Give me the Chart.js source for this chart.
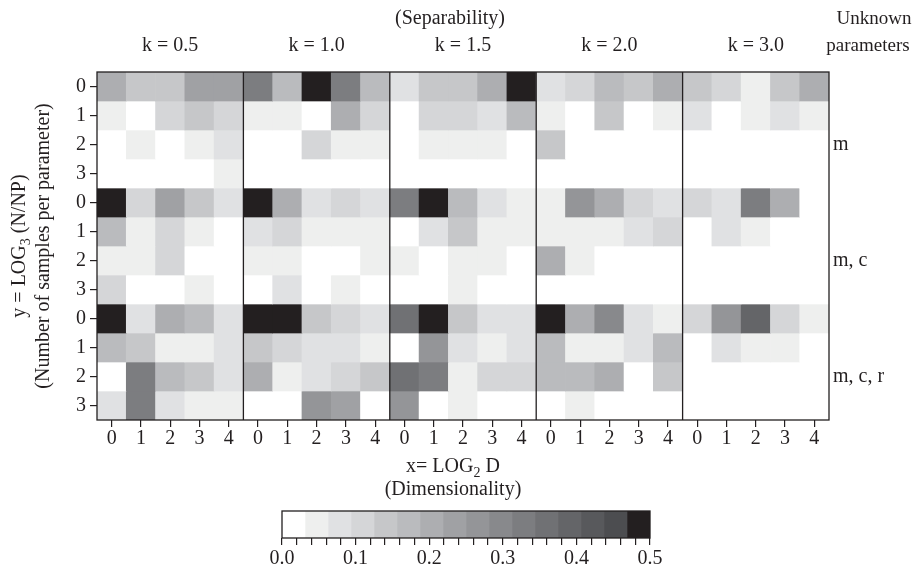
<!DOCTYPE html>
<html>
<head>
<meta charset="utf-8">
<script src="https://cdn.jsdelivr.net/npm/chart.js@4"></script>
<style>
  body { margin: 0; background: #fff; }
  #wrap { position: relative; width: 916px; height: 572px; }
  #main { position: absolute; left: 0; top: 0; }
  #bar { position: absolute; left: 262px; top: 502px; }
</style>
</head>
<body>
<div id="wrap">
  <canvas id="main" width="916" height="572"></canvas>
  <canvas id="bar" width="420" height="70"></canvas>
</div>
<script>
// separability panels, dimensionality ticks, sample-size ticks
const kLabels = ['k = 0.5', 'k = 1.0', 'k = 1.5', 'k = 2.0', 'k = 3.0'];
const xTicks = ['0', '1', '2', '3', '4'];
const yTicks = ['0', '1', '2', '3'];
const paramGroups = ['m', 'm, c', 'm, c, r'];

// 12 rows each: (m y0..y3), (m,c y0..y3), (m,c,r y0..y3); 5 cols x=0..4
const k05 = [
  [0.20, 0.14, 0.14, 0.23, 0.23],
  [0.05, 0.00, 0.11, 0.14, 0.11],
  [0.00, 0.05, 0.00, 0.05, 0.08],
  [0.00, 0.00, 0.00, 0.00, 0.05],
  [0.49, 0.11, 0.23, 0.14, 0.08],
  [0.17, 0.05, 0.11, 0.05, 0.00],
  [0.05, 0.05, 0.11, 0.00, 0.00],
  [0.11, 0.00, 0.00, 0.05, 0.00],
  [0.49, 0.08, 0.20, 0.17, 0.08],
  [0.17, 0.14, 0.05, 0.05, 0.08],
  [0.00, 0.33, 0.17, 0.14, 0.08],
  [0.08, 0.33, 0.08, 0.05, 0.05]
];
const k10 = [
  [0.33, 0.17, 0.49, 0.33, 0.17],
  [0.05, 0.05, 0.00, 0.20, 0.11],
  [0.00, 0.00, 0.11, 0.05, 0.05],
  [0.00, 0.00, 0.00, 0.00, 0.00],
  [0.49, 0.20, 0.08, 0.11, 0.08],
  [0.08, 0.11, 0.05, 0.05, 0.05],
  [0.05, 0.05, 0.00, 0.00, 0.05],
  [0.00, 0.08, 0.00, 0.05, 0.00],
  [0.49, 0.49, 0.14, 0.11, 0.08],
  [0.14, 0.11, 0.08, 0.08, 0.05],
  [0.20, 0.05, 0.08, 0.11, 0.14],
  [0.00, 0.00, 0.27, 0.23, 0.00]
];
const k15 = [
  [0.08, 0.14, 0.14, 0.20, 0.49],
  [0.00, 0.11, 0.11, 0.08, 0.17],
  [0.00, 0.05, 0.05, 0.05, 0.00],
  [0.00, 0.00, 0.00, 0.00, 0.00],
  [0.33, 0.49, 0.17, 0.08, 0.05],
  [0.00, 0.08, 0.14, 0.05, 0.05],
  [0.05, 0.00, 0.05, 0.05, 0.00],
  [0.00, 0.00, 0.05, 0.00, 0.00],
  [0.36, 0.49, 0.14, 0.08, 0.08],
  [0.00, 0.27, 0.08, 0.05, 0.08],
  [0.36, 0.33, 0.05, 0.11, 0.11],
  [0.27, 0.00, 0.05, 0.00, 0.00]
];
const k20 = [
  [0.08, 0.11, 0.17, 0.14, 0.20],
  [0.05, 0.00, 0.14, 0.00, 0.05],
  [0.14, 0.00, 0.00, 0.00, 0.00],
  [0.00, 0.00, 0.00, 0.00, 0.00],
  [0.05, 0.27, 0.20, 0.11, 0.08],
  [0.05, 0.05, 0.05, 0.08, 0.11],
  [0.20, 0.05, 0.00, 0.00, 0.00],
  [0.00, 0.00, 0.00, 0.00, 0.00],
  [0.49, 0.20, 0.30, 0.08, 0.05],
  [0.17, 0.05, 0.05, 0.08, 0.17],
  [0.17, 0.17, 0.20, 0.00, 0.14],
  [0.00, 0.05, 0.00, 0.00, 0.00]
];
const k30 = [
  [0.14, 0.11, 0.05, 0.14, 0.20],
  [0.08, 0.00, 0.05, 0.08, 0.05],
  [0.00, 0.00, 0.00, 0.00, 0.00],
  [0.00, 0.00, 0.00, 0.00, 0.00],
  [0.11, 0.08, 0.33, 0.20, 0.00],
  [0.00, 0.08, 0.05, 0.00, 0.00],
  [0.00, 0.00, 0.00, 0.00, 0.00],
  [0.00, 0.00, 0.00, 0.00, 0.00],
  [0.11, 0.27, 0.39, 0.11, 0.05],
  [0.00, 0.08, 0.05, 0.05, 0.00],
  [0.00, 0.00, 0.00, 0.00, 0.00],
  [0.00, 0.00, 0.00, 0.00, 0.00]
];

// colour key: 16 grey steps over 0..0.5
const cbMax = 0.5;
const cbTickLabels = ['0.0', '0.1', '0.2', '0.3', '0.4', '0.5'];
const greys = ['#ffffff', '#eeefee', '#e0e1e3', '#d5d6d8', '#c6c7c9', '#babbbe',
  '#adaeb1', '#a0a1a4', '#949598', '#88898c', '#7c7d80', '#707174',
  '#646568', '#58595c', '#4c4d50', '#231f20'];

const FONT = '"Liberation Serif", "DejaVu Serif", serif';
const INK = '#231f20';

function greyFor(v) {
  let i = Math.floor(v / (cbMax / greys.length));
  if (i >= greys.length) i = greys.length - 1;
  if (i < 0) i = 0;
  return greys[i];
}

const panels = [k05, k10, k15, k20, k30];
const labels = [];
for (let p = 0; p < panels.length; p++) {
  for (let c = 0; c < xTicks.length; c++) labels.push(p + '-' + c);
}
const nRows = k05.length;

const datasets = [];
for (let r = 0; r < nRows; r++) {
  let spans = [], colors = [];
  for (let p = 0; p < panels.length; p++) {
    for (let c = 0; c < xTicks.length; c++) {
      spans.push([r, r + 1]);
      colors.push(greyFor(panels[p][r][c]));
    }
  }
  datasets.push({
    data: spans,
    backgroundColor: colors,
    borderWidth: 0,
    barPercentage: 1,
    categoryPercentage: 1,
    grouped: false
  });
}

// text with subscript pieces: [[text, isSub], ...]
function drawParts(ctx, parts, x, y, size) {
  let w = 0;
  parts.forEach(pt => {
    ctx.font = (pt[1] ? size * 0.7 : size) + 'px ' + FONT;
    w += ctx.measureText(pt[0]).width;
  });
  let cx = x - w / 2;
  ctx.textAlign = 'left';
  parts.forEach(pt => {
    ctx.font = (pt[1] ? size * 0.7 : size) + 'px ' + FONT;
    ctx.fillText(pt[0], cx, pt[1] ? y + size * 0.3 : y);
    cx += ctx.measureText(pt[0]).width;
  });
}

const framePlugin = {
  id: 'frame',
  afterDraw(chart) {
    const ctx = chart.ctx, a = chart.chartArea;
    const xs = chart.scales.x, ys = chart.scales.y;
    ctx.save();
    ctx.strokeStyle = INK;
    ctx.lineWidth = 1.3;
    ctx.strokeRect(a.left, a.top, a.right - a.left, a.bottom - a.top);
    for (let p = 1; p < panels.length; p++) {
      let i = p * xTicks.length;
      let xp = (xs.getPixelForValue(i - 1) + xs.getPixelForValue(i)) / 2;
      ctx.beginPath();
      ctx.moveTo(xp, a.top);
      ctx.lineTo(xp, a.bottom);
      ctx.stroke();
    }
    ctx.fillStyle = INK;
    ctx.textBaseline = 'middle';
    ctx.textAlign = 'center';
    ctx.font = '20px ' + FONT;
    ctx.fillText('(Separability)', 450, 19);
    for (let p = 0; p < panels.length; p++) {
      let i = p * xTicks.length;
      let xc = (xs.getPixelForValue(i) + xs.getPixelForValue(i + xTicks.length - 1)) / 2;
      ctx.fillText(kLabels[p], xc, 46);
    }
    ctx.font = '19px ' + FONT;
    ctx.fillText('Unknown', 874, 19);
    ctx.fillText('parameters', 868, 46);
    ctx.font = '20px ' + FONT;
    ctx.textAlign = 'left';
    for (let g = 0; g < paramGroups.length; g++) {
      let yc = ys.getPixelForValue(g * 4 + 2.5);
      ctx.fillText(paramGroups[g], a.right + 4, yc);
    }
    // x title
    drawParts(ctx, [['x= LOG', false], ['2', true], [' D', false]], 453, 467, 20);
    ctx.textAlign = 'center';
    ctx.font = '20px ' + FONT;
    ctx.fillText('(Dimensionality)', 453, 490);
    // y title
    const yc = (a.top + a.bottom) / 2;
    ctx.save();
    ctx.translate(20, yc);
    ctx.rotate(-Math.PI / 2);
    drawParts(ctx, [['y = LOG', false], ['3', true], [' (N/NP)', false]], 0, 0, 20);
    ctx.restore();
    ctx.save();
    ctx.translate(44, yc);
    ctx.rotate(-Math.PI / 2);
    ctx.textAlign = 'center';
    ctx.font = '20px ' + FONT;
    ctx.fillText('(Number of samples per parameter)', 0, 0);
    ctx.restore();
    ctx.restore();
  }
};

new Chart(document.getElementById('main'), {
  type: 'bar',
  data: { labels: labels, datasets: datasets },
  options: {
    responsive: false,
    animation: false,
    layout: { padding: { left: 0, top: 72, right: 87, bottom: 122 } },
    plugins: { legend: { display: false }, tooltip: { enabled: false } },
    scales: {
      x: {
        type: 'category',
        offset: true,
        grid: { offset: false, drawOnChartArea: false, color: INK, tickLength: 7, lineWidth: 1.2 },
        border: { display: false },
        ticks: {
          color: INK, font: { family: FONT, size: 20 }, padding: 0,
          autoSkip: false, maxRotation: 0,
          callback: (v, i) => xTicks[i % xTicks.length]
        },
        afterFit: s => { s.height = 30; }
      },
      y: {
        type: 'linear',
        min: 0, max: nRows,
        reverse: true,
        grid: { drawOnChartArea: false, color: INK, tickLength: 7, lineWidth: 1.2 },
        border: { display: false },
        afterBuildTicks: s => { s.ticks = Array.from({ length: nRows }, (_, i) => ({ value: i + 0.5 })); },
        ticks: {
          color: INK, font: { family: FONT, size: 20 }, padding: 4,
          autoSkip: false,
          callback: (v, i) => yTicks[i % yTicks.length]
        },
        afterFit: s => { s.width = 97; }
      }
    }
  },
  plugins: [framePlugin]
});

// colour key
const cbSets = greys.map((g, i) => ({
  data: [[i * cbMax / greys.length, (i + 1) * cbMax / greys.length]],
  backgroundColor: g,
  borderWidth: 0,
  barPercentage: 1,
  categoryPercentage: 1,
  grouped: false
}));

const cbFrame = {
  id: 'cbframe',
  afterDraw(chart) {
    const ctx = chart.ctx, a = chart.chartArea;
    ctx.save();
    ctx.strokeStyle = INK;
    ctx.lineWidth = 1.3;
    ctx.strokeRect(a.left, a.top, a.right - a.left, a.bottom - a.top);
    ctx.restore();
  }
};

new Chart(document.getElementById('bar'), {
  type: 'bar',
  data: { labels: ['key'], datasets: cbSets },
  options: {
    indexAxis: 'y',
    responsive: false,
    animation: false,
    layout: { padding: { left: 20, top: 9, right: 32, bottom: 0 } },
    plugins: { legend: { display: false }, tooltip: { enabled: false } },
    scales: {
      y: { display: false },
      x: {
        type: 'linear', min: 0, max: cbMax,
        grid: { drawOnChartArea: false, color: INK, tickLength: 7, lineWidth: 1.2 },
        border: { display: false },
        afterBuildTicks: s => {
          let t = [];
          for (let i = 0; i <= 25; i++) t.push({ value: i * 0.02 });
          s.ticks = t;
        },
        ticks: {
          color: INK, font: { family: FONT, size: 20 }, padding: 2,
          autoSkip: false, maxRotation: 0,
          callback: (v, i) => (i % 5 === 0 ? cbTickLabels[i / 5] : '')
        },
        afterFit: s => { s.height = 34; }
      }
    }
  },
  plugins: [cbFrame]
});
</script>
</body>
</html>
